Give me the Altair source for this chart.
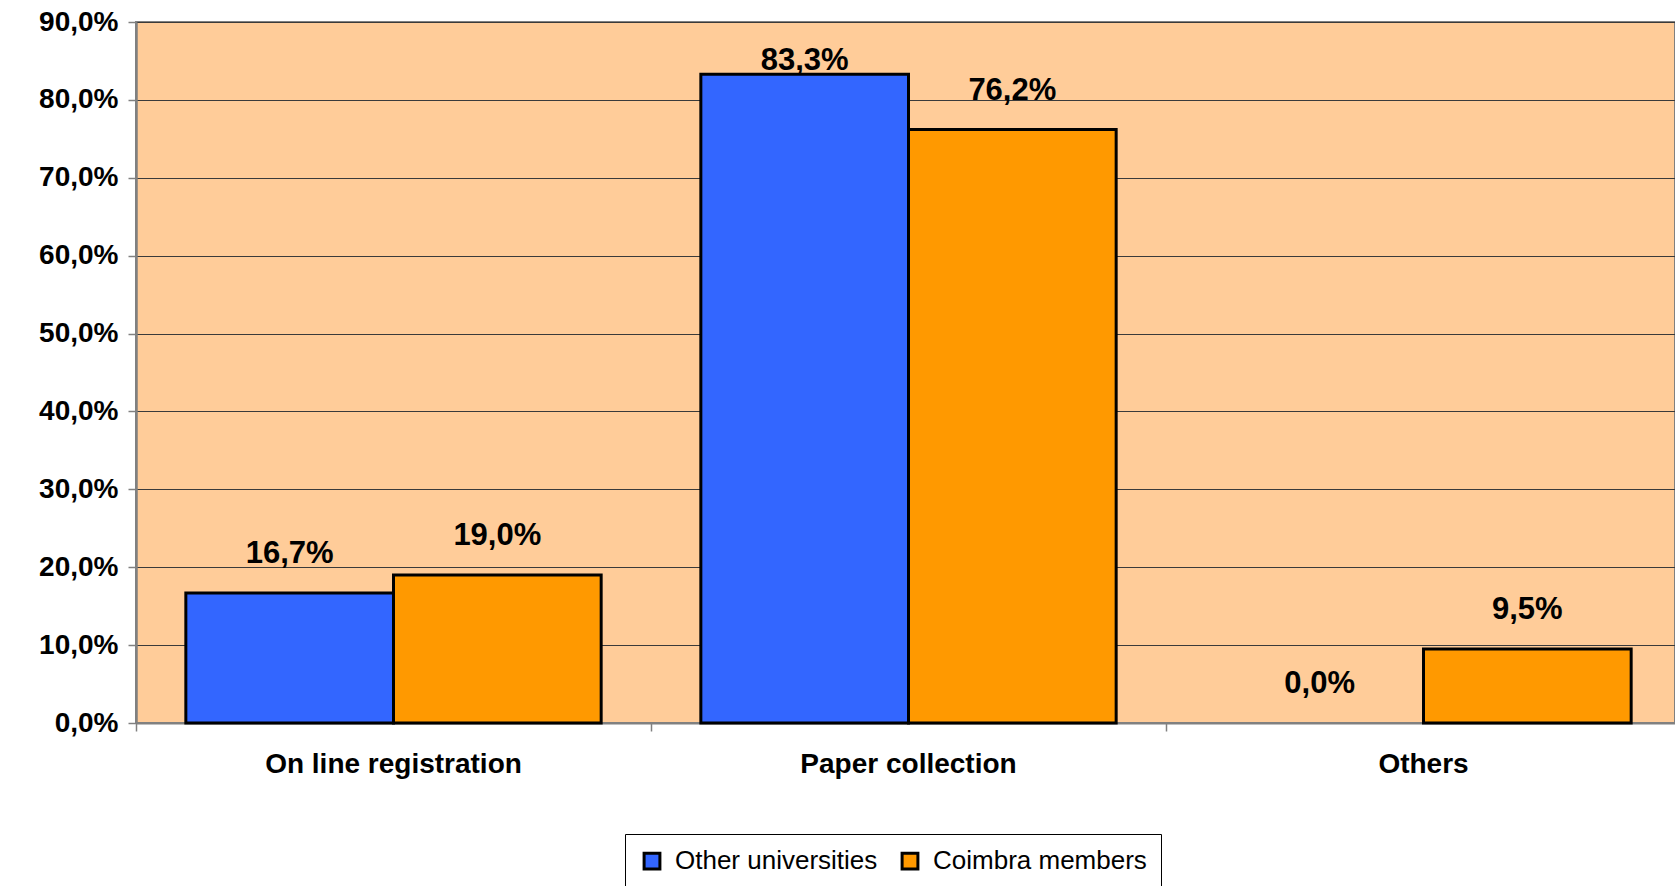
import altair as alt
import pandas as pd

# Survey answers: how students were registered, by group (percent)
categories = ["On line registration", "Paper collection", "Others"]
series = ["Other universities", "Coimbra members"]
other_universities = [16.7, 83.3, 0.0]
coimbra_members = [19.0, 76.2, 9.5]
colors = ["#3366FF", "#FF9900"]
y_ticks = [0, 10, 20, 30, 40, 50, 60, 70, 80, 90]

rows = []
for cat, a, b in zip(categories, other_universities, coimbra_members):
    rows.append({"category": cat, "series": series[0], "value": a})
    rows.append({"category": cat, "series": series[1], "value": b})
df = pd.DataFrame(rows)

FONT = "Liberation Sans"

# The category bands run slightly past the right edge of the view
x_enc = alt.X(
    "category:N",
    sort=categories,
    scale=alt.Scale(paddingInner=0, paddingOuter=0, range=[0, 1545]),
    axis=alt.Axis(
        title=None,
        labelAngle=0,
        labelLimit=0,
        labelFont=FONT,
        labelFontSize=28,
        labelFontWeight="bold",
        labelColor="#000000",
        labelPadding=19,
        bandPosition=0,
        ticks=True,
        tickSize=8,
        tickColor="#808080",
        tickWidth=1.5,
        domainColor="#808080",
        domainWidth=2,
        grid=False,
    ),
)
xoff_enc = alt.XOffset(
    "series:N", sort=series, scale=alt.Scale(paddingInner=0, paddingOuter=0.24)
)

y_scale = alt.Scale(domain=[0, 90], nice=False)

bars = (
    alt.Chart(df)
    .transform_filter("datum.value > 0")
    .mark_bar(stroke="#000000", strokeWidth=3)
    .encode(
        x=x_enc,
        xOffset=xoff_enc,
        y=alt.Y(
            "value:Q",
            scale=y_scale,
            axis=alt.Axis(
                title=None,
                values=y_ticks,
                labelExpr="replace(format(datum.value, '.1f'), '.', ',') + '%'",
                labelFont=FONT,
                labelFontSize=28,
                labelFontWeight="bold",
                labelColor="#000000",
                labelPadding=10,
                tickSize=8,
                tickColor="#808080",
                tickWidth=1.5,
                domainColor="#808080",
                domainWidth=2.5,
                grid=True,
                gridColor="#3a3a3a",
                gridWidth=1,
            ),
        ),
        color=alt.Color(
            "series:N",
            sort=series,
            scale=alt.Scale(domain=series, range=colors),
            legend=alt.Legend(
                title=None,
                orient="none",
                legendX=489,
                legendY=812,
                direction="horizontal",
                symbolType="square",
                symbolSize=250,
                symbolStrokeColor="#000000",
                symbolStrokeWidth=3,
                symbolOpacity=1,
                labelFont=FONT,
                labelFontSize=26,
                labelColor="#000000",
                labelLimit=0,
                labelOffset=10,
                columnPadding=18,
                padding=14,
                strokeColor="#000000",
                fillColor="#FFFFFF",
            ),
        ),
    )
)

# Value labels sit above each bar, kept clear of the top edge
labels = (
    alt.Chart(df)
    .transform_calculate(
        label="replace(format(datum.value, '.1f'), '.', ',') + '%'",
        pos="min(datum.value + 5, 85.0)",
    )
    .mark_text(font=FONT, fontSize=31, fontWeight="bold", color="#000000", baseline="middle")
    .encode(
        x=x_enc,
        xOffset=xoff_enc,
        y=alt.Y("pos:Q", scale=y_scale),
        text="label:N",
    )
)

chart = (
    alt.layer(bars, labels)
    .properties(
        width=1539,
        height=701,
        autosize=alt.AutoSizeParams(type="none"),
        padding={"left": 136, "top": 22, "right": 0, "bottom": 163},
        background="#FFFFFF",
    )
    .configure_view(fill="#FFCC99", stroke="#808080", strokeWidth=2)
)

chart.save("out.html", embed_options={"renderer": "svg", "actions": False})
